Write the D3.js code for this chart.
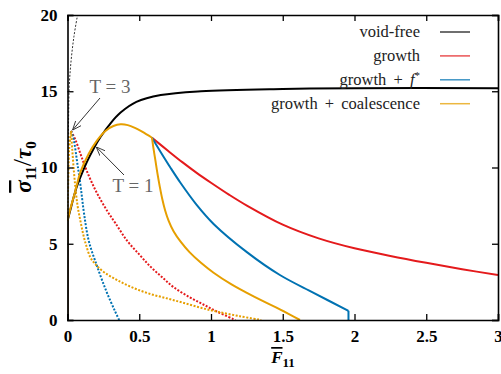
<!DOCTYPE html>
<html>
<head>
<meta charset="utf-8">
<script src="https://cdn.jsdelivr.net/npm/d3@7"></script>
<style>
  body { margin: 0; background: #fff; }
  svg { display: block; }
  svg text { font-family: "Liberation Serif", "DejaVu Serif", serif; }
  .tick text { font-weight: bold; font-size: 17px; fill: #000; }
</style>
</head>
<body>
<div id="chart"></div>
<script>
// F11 vs sigma11/tau0, T = 1 solid, T = 3 dotted
const voidFree1 = [[0,6.5],[0.025,7.4],[0.05,8.3],[0.075,9.0],[0.1,9.6],[0.137,10.4],[0.18,11.2],[0.23,12.0],[0.3,12.9],[0.37,13.6],[0.48,14.3],[0.65,14.75],[0.93,15.0],[1.5,15.15],[2,15.2],[3,15.2]];
const voidFree3 = [[0,6.5],[0.004,10],[0.008,13.5],[0.012,15.3],[0.025,17],[0.045,18.6],[0.07,20]];
const rise1 = [[0,6.5],[0.02,7.3],[0.05,8.3],[0.09,9.7],[0.148,10.9],[0.2,11.7],[0.264,12.4],[0.32,12.72],[0.37,12.83],[0.42,12.78],[0.47,12.6],[0.52,12.35],[0.589,11.95]];
const growth1 = [[0.589,11.95],[0.7,11.1],[0.8,10.35],[0.9,9.65],[1.0,9.0],[1.125,8.22],[1.25,7.5],[1.5,6.25],[1.75,5.35],[2.0,4.7],[2.25,4.2],[2.5,3.75],[2.75,3.33],[3.0,2.95]];
const fstar1 = [[0.589,11.95],[0.65,11.0],[0.72,9.95],[0.787,9.0],[0.9,7.55],[1.018,6.3],[1.25,4.45],[1.48,2.95],[1.715,1.78],[1.958,0.6]];
const coal1 = [[0.589,11.95],[0.6,11.2],[0.612,10.5],[0.627,9.6],[0.643,8.75],[0.66,7.95],[0.68,7.2],[0.705,6.5],[0.74,5.8],[0.787,5.15],[0.85,4.45],[0.93,3.75],[1.018,3.1],[1.14,2.35],[1.25,1.78],[1.37,1.2],[1.48,0.7],[1.62,0]];
const rise3 = [[0,6.5],[0.006,9.5],[0.012,11.3],[0.025,12.4]];
const growth3 = [[0.025,12.4],[0.056,11.8],[0.09,10.9],[0.125,10.0],[0.17,9.0],[0.218,8.1],[0.28,7.1],[0.334,6.35],[0.415,5.2],[0.5,4.3],[0.578,3.5],[0.66,2.8],[0.74,2.15],[0.85,1.5],[0.95,1.0],[1.042,0.55],[1.17,0]];
const fstar3 = [[0.025,12.4],[0.044,11.8],[0.065,10.5],[0.079,9.6],[0.095,8.5],[0.115,7.0],[0.148,5.2],[0.207,3.5],[0.27,1.9],[0.33,0.6],[0.36,0]];
const coal3 = [[0.025,12.4],[0.033,11.2],[0.045,9.7],[0.056,8.6],[0.07,7.5],[0.09,6.5],[0.11,5.6],[0.13,4.9],[0.16,4.1],[0.2,3.6],[0.26,3.1],[0.35,2.6],[0.46,2.1],[0.58,1.7],[0.7,1.4],[0.81,1.12],[0.93,0.8],[1.04,0.55],[1.2,0.25],[1.35,0]];
const elastic = [[0,0],[0,6.5]];
const fstarDrop = [[1.958,0.6],[1.958,0]];

const xTicks = [0, 0.5, 1, 1.5, 2, 2.5, 3];
const yTicks = [0, 5, 10, 15, 20];
const legendLabels = ["void-free", "growth", "growth + f*", "growth + coalescence"];
const colors = { black: "#000000", red: "#e41a1c", blue: "#0072b2", orange: "#e69f00" };

const width = 501, height = 374;
const margin = { top: 15, right: 3, bottom: 54, left: 67.5 };

const svg = d3.select("#chart").append("svg")
  .attr("width", width).attr("height", height);

const x = d3.scaleLinear().domain([0, 3]).range([margin.left, width - margin.right]);
const y = d3.scaleLinear().domain([0, 20]).range([height - margin.bottom, margin.top]);

svg.append("clipPath").attr("id", "clip").append("rect")
  .attr("x", x(0)).attr("y", y(20))
  .attr("width", x(3) - x(0)).attr("height", y(0) - y(20));
const plot = svg.append("g").attr("clip-path", "url(#clip)");

const smooth = d3.line().x(d => x(d[0])).y(d => y(d[1])).curve(d3.curveCatmullRom.alpha(0.5));
const straight = d3.line().x(d => x(d[0])).y(d => y(d[1]));

function draw(data, color, dotted, w, lin) {
  plot.append("path")
    .attr("d", (lin ? straight : smooth)(data))
    .attr("fill", "none")
    .attr("stroke", color)
    .attr("stroke-width", w || 2)
    .attr("stroke-dasharray", dotted ? "2,1.6" : null);
}

// T = 3 (dotted)
draw(voidFree3, "#333", true, 1);
draw(growth3, colors.red, true);
draw(fstar3, colors.blue, true);
draw(coal3, colors.orange, true);
draw(rise3, colors.orange, true);
// T = 1 (solid)
draw(voidFree1, colors.black, false);
draw(growth1, colors.red, false);
draw(fstar1, colors.blue, false);
draw(fstarDrop, colors.blue, false, 2, true);
draw(coal1, colors.orange, false);
draw(rise1, colors.orange, false);
draw(elastic, "#4a3510", false, 2.5, true);

// axes, ticks pointing inwards
const fmt = d => String(d);
svg.append("g").attr("transform", `translate(0,${y(0)})`)
  .call(d3.axisBottom(x).tickValues(xTicks).tickFormat(fmt).tickSize(-6).tickPadding(10));
svg.append("g").attr("transform", `translate(0,${y(20)})`)
  .call(d3.axisTop(x).tickValues(xTicks).tickFormat("").tickSize(-6));
svg.append("g").attr("transform", `translate(${x(0)},0)`)
  .call(d3.axisLeft(y).tickValues(yTicks).tickFormat(fmt).tickSize(-6).tickPadding(10));
svg.append("g").attr("transform", `translate(${x(3)},0)`)
  .call(d3.axisRight(y).tickValues(yTicks).tickFormat("").tickSize(-6));
svg.selectAll(".domain").attr("stroke", "#000").attr("stroke-width", 1.6);
svg.selectAll(".tick line").attr("stroke", "#000").attr("stroke-width", 1.3);

// legend
const legendColors = [colors.black, colors.red, colors.blue, colors.orange];
const legend = svg.append("g").attr("font-size", 16.5).attr("fill", "#222");
legendLabels.forEach((lab, i) => {
  const ly = 32 + i * 23.9;
  const t = legend.append("text").attr("x", 420).attr("y", ly + 5).attr("text-anchor", "end")
    .style("word-spacing", "3px");
  if (lab === "growth + f*") {
    t.append("tspan").text("growth + ");
    t.append("tspan").attr("font-style", "italic").text("f");
    t.append("tspan").attr("dy", -6).attr("font-size", 11).text("*");
  } else {
    t.text(lab);
  }
  legend.append("line").attr("x1", 440).attr("x2", 470).attr("y1", ly).attr("y2", ly)
    .attr("stroke", legendColors[i]).attr("stroke-width", 1.5).attr("opacity", 0.75);
});

// annotations
svg.append("defs").append("marker")
  .attr("id", "arr").attr("viewBox", "0 0 10 10").attr("refX", 10).attr("refY", 5)
  .attr("markerWidth", 9).attr("markerHeight", 9).attr("orient", "auto")
  .append("path").attr("d", "M0,1 L10,5 L0,9").attr("fill", "none").attr("stroke", "#333").attr("stroke-width", 1);

const ann = svg.append("g").attr("font-size", 19).attr("fill", "#666");
ann.append("text").attr("x", 110).attr("y", 93).attr("text-anchor", "middle").text("T = 3");
ann.append("text").attr("x", 133).attr("y", 192).attr("text-anchor", "middle").text("T = 1");
svg.append("line").attr("x1", 100).attr("y1", 98).attr("x2", x(0.035)).attr("y2", y(12.45))
  .attr("stroke", "#333").attr("stroke-width", 1).attr("marker-end", "url(#arr)");
svg.append("line").attr("x1", 124).attr("y1", 175).attr("x2", x(0.2)).attr("y2", y(11.35))
  .attr("stroke", "#333").attr("stroke-width", 1).attr("marker-end", "url(#arr)");

// axis titles
const xt = svg.append("text").attr("x", 283).attr("y", 363).attr("text-anchor", "middle")
  .attr("font-weight", "bold").attr("font-size", 17);
xt.append("tspan").attr("font-style", "italic").attr("text-decoration", "overline").text("F");
xt.append("tspan").attr("font-size", 13).attr("dy", 4).text("11");

const yt = svg.append("text").attr("transform", "translate(31,167) rotate(-90)").attr("text-anchor", "middle")
  .attr("font-weight", "bold").attr("font-size", 23);
yt.append("tspan").attr("font-style", "italic").attr("text-decoration", "overline").text("σ");
yt.append("tspan").attr("font-size", 15).attr("dy", 5).text("11");
yt.append("tspan").attr("dy", -5).attr("font-weight", "normal").attr("font-size", 26).text("/");
yt.append("tspan").attr("font-style", "italic").text("τ");
yt.append("tspan").attr("font-size", 15).attr("dy", 5).text("0");
</script>
</body>
</html>
